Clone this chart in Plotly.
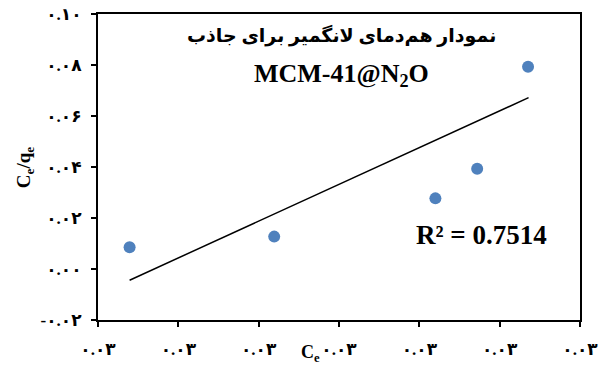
import plotly.graph_objects as go

# Data
ce = [0.02659, 0.02929, 0.03230, 0.03308, 0.03403]
ce_qe = [0.0085, 0.0127, 0.0277, 0.0393, 0.0793]

# Trendline endpoints
trend_x = [0.02659, 0.03404]
trend_y = [-0.0044, 0.0672]

x_tickvals = [0.026, 0.0275, 0.029, 0.0305, 0.032, 0.0335, 0.035]
x_ticktext = ["۰.۰۳"] * 7
y_tickvals = [-0.02, 0.0, 0.02, 0.04, 0.06, 0.08, 0.10]
y_ticktext = ["-۰.۰۲", "۰.۰۰", "۰.۰۲", "۰.۰۴", "۰.۰۶", "۰.۰۸", "۰.۱۰"]

title_fa = "نمودار هم‌دمای لانگمیر برای جاذب"
title_en = "MCM-41@N<sub>2</sub>O"
r2_text = "R² = 0.7514"

font_fam = "Liberation Serif, DejaVu Serif, DejaVu Sans"

fig = go.Figure()
fig.add_trace(go.Scatter(x=trend_x, y=trend_y, mode="lines",
                         line=dict(color="black", width=1.5), showlegend=False))
fig.add_trace(go.Scatter(x=ce, y=ce_qe, mode="markers",
                         marker=dict(color="#4F81BD", size=12), showlegend=False))

axis_common = dict(showline=True, linecolor="black", linewidth=2, mirror=True,
                   ticks="outside", ticklen=5, tickwidth=2, tickcolor="black",
                   showgrid=False, zeroline=False, automargin=False,
                   tickfont=dict(family=font_fam, size=17, color="black", weight="bold"))

fig.update_xaxes(range=[0.026, 0.035], tickmode="array", tickvals=x_tickvals,
                 ticktext=x_ticktext, ticklabelstandoff=8, **axis_common)
fig.update_yaxes(range=[-0.02, 0.10], tickmode="array", tickvals=y_tickvals,
                 ticktext=y_ticktext, ticklabelstandoff=6, **axis_common)

def ann(text, x, y, size, angle=0):
    fig.add_annotation(text=text, xref="paper", yref="paper", x=x, y=y,
                       xanchor="center", yanchor="middle", showarrow=False,
                       textangle=angle,
                       font=dict(family=font_fam, size=size, color="black"))

ann("<b>" + title_fa + "</b>", 0.505, 0.931, 19)
ann("<b>" + title_en + "</b>", 0.505, 0.80, 26)
ann("<b>" + r2_text + "</b>", 0.795, 0.278, 27)
ann("<b>C<sub>e</sub></b>", 0.44, -0.11, 18)
ann("<b>C<sub>e</sub>/q<sub>e</sub></b>", -0.151, 0.5, 19, -90)

fig.update_layout(width=600, height=365, margin=dict(l=98, r=20, t=14, b=45),
                  paper_bgcolor="white", plot_bgcolor="white",
                  font=dict(family=font_fam, color="black"))

fig.write_html("out.html")
